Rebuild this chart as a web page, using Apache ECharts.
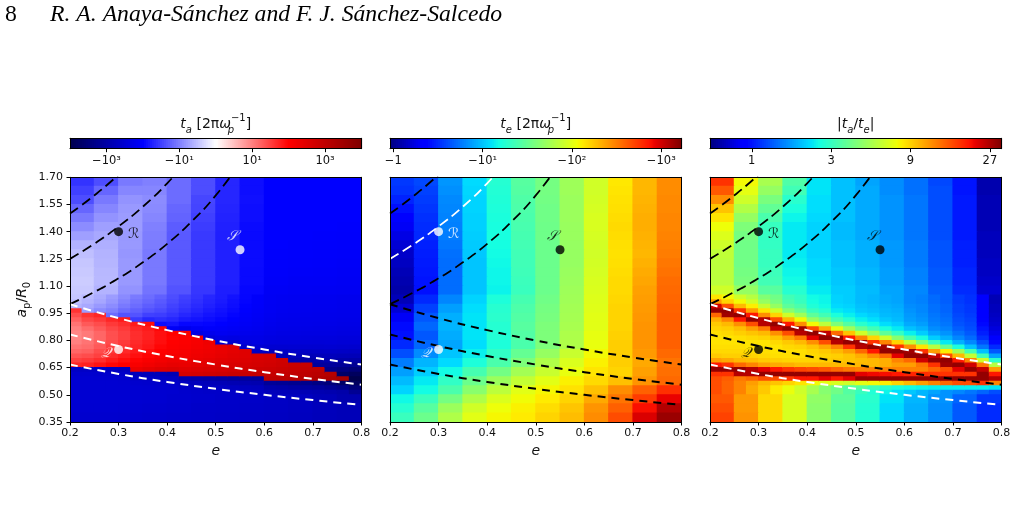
<!DOCTYPE html>
<html>
<head>
<meta charset="utf-8">
<title>t_a, t_e and |t_a/t_e| maps</title>
<script src="https://cdn.jsdelivr.net/npm/echarts@6/dist/echarts.min.js"></script>
<style>
  html, body { margin: 0; padding: 0; background: #fff; }
  #chart { width: 1017px; height: 508px; }
</style>
</head>
<body>
<div id="chart"></div>
<script>
// cell centres. coarse cells are 0.05 x 0.05, fine cells (band region) 0.025 x 0.025
var eCenters = [0.225, 0.275, 0.325, 0.375, 0.425, 0.475, 0.525, 0.575, 0.625, 0.675, 0.725, 0.775];
var aCenters = [1.675, 1.625, 1.575, 1.525, 1.475, 1.425, 1.375, 1.325, 1.275, 1.225, 1.175, 1.125, 1.075,
                1.025, 0.975, 0.925, 0.875, 0.825, 0.775, 0.725, 0.675, 0.625, 0.575, 0.525, 0.475, 0.425, 0.375];
var aUpper = [1.675, 1.625, 1.575, 1.525, 1.475, 1.425, 1.375, 1.325, 1.275, 1.225, 1.175, 1.125, 1.075];
var aLower = [0.475, 0.425, 0.375];
var eFine = [0.2125, 0.2375, 0.2625, 0.2875, 0.3125, 0.3375, 0.3625, 0.3875, 0.4125, 0.4375, 0.4625, 0.4875,
             0.5125, 0.5375, 0.5625, 0.5875, 0.6125, 0.6375, 0.6625, 0.6875, 0.7125, 0.7375, 0.7625, 0.7875];
var aFine = [1.0375, 1.0125, 0.9875, 0.9625, 0.9375, 0.9125, 0.8875, 0.8625, 0.8375, 0.8125, 0.7875,
             0.7625, 0.7375, 0.7125, 0.6875, 0.6625, 0.6375, 0.6125, 0.5875, 0.5625, 0.5375, 0.5125];
var eTicks = [0.2, 0.3, 0.4, 0.5, 0.6, 0.7, 0.8];
var aTicks = [0.35, 0.50, 0.65, 0.80, 0.95, 1.10, 1.25, 1.40, 1.55, 1.70];

// t_a as signed symlog10 (|t_a| < 10 linear, +-1 at +-10); rows over aUpper
var taUpper = [
  [-1.6,-1.4,-1.05,-1.0,-1.15,-1.4,-1.7,-1.9,-2.0,-2.0,-2.0,-2.0],
  [-1.5,-1.2,-0.95,-0.95,-1.15,-1.4,-1.7,-1.9,-2.0,-2.0,-2.0,-2.0],
  [-1.4,-1.05,-0.85,-0.9,-1.15,-1.45,-1.7,-1.88,-2.0,-2.0,-2.0,-2.0],
  [-1.2,-0.95,-0.8,-0.92,-1.2,-1.47,-1.72,-1.9,-2.0,-2.0,-2.0,-2.0],
  [-1.05,-0.85,-0.78,-0.95,-1.22,-1.5,-1.73,-1.9,-2.0,-2.0,-2.0,-2.0],
  [-0.9,-0.75,-0.78,-1.0,-1.28,-1.53,-1.75,-1.92,-2.0,-2.0,-2.0,-2.02],
  [-0.75,-0.68,-0.8,-1.02,-1.3,-1.55,-1.76,-1.93,-2.0,-2.0,-2.02,-2.03],
  [-0.6,-0.63,-0.8,-1.03,-1.3,-1.55,-1.76,-1.93,-2.0,-2.02,-2.03,-2.05],
  [-0.5,-0.6,-0.82,-1.05,-1.3,-1.55,-1.75,-1.92,-2.02,-2.03,-2.05,-2.06],
  [-0.45,-0.58,-0.8,-1.05,-1.3,-1.55,-1.75,-1.92,-2.03,-2.05,-2.06,-2.08],
  [-0.42,-0.56,-0.8,-1.05,-1.3,-1.55,-1.75,-1.93,-2.05,-2.07,-2.08,-2.1],
  [-0.4,-0.55,-0.8,-1.05,-1.3,-1.55,-1.75,-1.93,-2.07,-2.1,-2.1,-2.12],
  [-0.42,-0.6,-0.85,-1.1,-1.35,-1.58,-1.77,-1.95,-2.1,-2.12,-2.13,-2.15]
];
// t_a band region, one array per eFine column, top to bottom over aFine
var taFineCols = [
  [-0.45,-0.5,-0.6,1.6,1.4,1.25,1.1,1.0,0.95,0.95,1.0,1.1,1.2,1.35,1.5,1.7,-2.65,-2.55,-2.5,-2.5,-2.5,-2.5],
  [-0.55,-0.6,-0.68,-0.78,1.6,1.45,1.3,1.15,1.05,1.05,1.1,1.15,1.25,1.4,1.55,1.75,-2.65,-2.55,-2.5,-2.5,-2.5,-2.5],
  [-0.65,-0.7,-0.8,-0.92,1.7,1.55,1.4,1.3,1.2,1.2,1.25,1.3,1.4,1.5,1.65,1.85,-2.65,-2.56,-2.52,-2.5,-2.5,-2.5],
  [-0.78,-0.82,-0.9,-1.0,-1.15,1.7,1.55,1.45,1.38,1.38,1.42,1.5,1.58,1.68,1.8,1.95,-2.7,-2.58,-2.53,-2.5,-2.5,-2.5],
  [-0.92,-0.98,-1.05,-1.15,-1.35,1.8,1.65,1.55,1.5,1.5,1.55,1.6,1.68,1.78,1.9,2.05,-2.72,-2.6,-2.54,-2.52,-2.5,-2.5],
  [-1.04,-1.1,-1.15,-1.25,-1.35,-1.55,1.8,1.7,1.65,1.65,1.68,1.72,1.8,1.88,1.98,2.1,2.3,-2.75,-2.62,-2.55,-2.52,-2.5],
  [-1.15,-1.2,-1.27,-1.35,-1.5,-1.7,1.9,1.8,1.75,1.75,1.78,1.82,1.9,1.98,2.08,2.2,2.4,-2.78,-2.64,-2.57,-2.53,-2.51],
  [-1.25,-1.3,-1.35,-1.42,-1.52,-1.65,-1.9,1.95,1.88,1.88,1.9,1.95,2.0,2.08,2.18,2.3,2.5,-2.8,-2.66,-2.59,-2.55,-2.52],
  [-1.4,-1.43,-1.48,-1.53,-1.6,-1.7,-1.85,-2.1,2.0,1.98,2.0,2.03,2.08,2.15,2.25,2.38,2.55,-2.85,-2.68,-2.61,-2.56,-2.53],
  [-1.5,-1.53,-1.57,-1.62,-1.7,-1.8,-1.95,-2.2,2.1,2.05,2.05,2.08,2.12,2.18,2.25,2.35,2.48,2.65,-2.9,-2.72,-2.63,-2.56],
  [-1.6,-1.63,-1.67,-1.72,-1.78,-1.85,-1.95,-2.1,-2.3,2.15,2.12,2.15,2.2,2.25,2.32,2.42,2.55,2.7,-2.95,-2.75,-2.65,-2.58],
  [-1.7,-1.72,-1.75,-1.8,-1.85,-1.9,-1.97,-2.05,-2.2,-2.4,2.25,2.22,2.25,2.3,2.38,2.48,2.6,2.75,-3.0,-2.8,-2.67,-2.6],
  [-1.78,-1.8,-1.83,-1.87,-1.9,-1.95,-2.0,-2.07,-2.15,-2.3,-2.5,2.35,2.33,2.38,2.45,2.55,2.65,2.8,-3.05,-2.82,-2.68,-2.61],
  [-1.86,-1.88,-1.9,-1.93,-1.97,-2.0,-2.05,-2.1,-2.18,-2.32,-2.55,2.45,2.4,2.45,2.5,2.6,2.7,2.85,-3.1,-2.85,-2.7,-2.62],
  [-1.96,-1.97,-1.99,-2.01,-2.04,-2.07,-2.1,-2.15,-2.2,-2.28,-2.4,-2.6,2.5,2.5,2.55,2.62,2.72,2.88,-3.1,-2.87,-2.72,-2.63],
  [-2.04,-2.05,-2.06,-2.08,-2.1,-2.12,-2.15,-2.18,-2.22,-2.28,-2.35,-2.48,-2.65,2.6,2.62,2.68,2.78,2.92,-3.15,-2.9,-2.74,-2.65],
  [-2.12,-2.12,-2.13,-2.14,-2.16,-2.18,-2.2,-2.23,-2.27,-2.32,-2.4,-2.52,-2.7,2.65,2.68,2.72,2.8,2.9,3.0,-3.15,-2.92,-2.76],
  [-2.15,-2.15,-2.16,-2.17,-2.19,-2.21,-2.23,-2.26,-2.3,-2.35,-2.42,-2.52,-2.65,-2.8,2.75,2.78,2.85,2.93,3.05,-3.2,-2.95,-2.78],
  [-2.16,-2.16,-2.17,-2.18,-2.2,-2.22,-2.24,-2.27,-2.3,-2.35,-2.42,-2.5,-2.6,-2.75,-2.9,2.85,2.9,2.98,3.1,-3.25,-3.0,-2.8],
  [-2.17,-2.17,-2.18,-2.19,-2.21,-2.23,-2.25,-2.28,-2.32,-2.37,-2.44,-2.53,-2.65,-2.8,-3.0,2.9,2.95,3.02,3.15,-3.3,-3.05,-2.83],
  [-2.18,-2.18,-2.19,-2.2,-2.22,-2.24,-2.26,-2.29,-2.33,-2.38,-2.45,-2.53,-2.63,-2.78,-2.95,-3.1,3.0,3.08,3.2,-3.4,-3.1,-2.86],
  [-2.18,-2.18,-2.19,-2.2,-2.22,-2.24,-2.26,-2.29,-2.33,-2.38,-2.44,-2.52,-2.62,-2.75,-2.9,-3.1,-3.3,3.15,3.25,-3.5,-3.2,-2.9],
  [-2.2,-2.2,-2.21,-2.22,-2.24,-2.26,-2.28,-2.31,-2.35,-2.4,-2.46,-2.54,-2.64,-2.78,-2.95,-3.15,-3.4,-3.7,3.35,-3.7,-3.3,-2.95],
  [-2.2,-2.2,-2.21,-2.22,-2.24,-2.26,-2.28,-2.31,-2.35,-2.4,-2.46,-2.55,-2.66,-2.8,-2.98,-3.2,-3.5,-3.8,-4.0,-3.8,-3.5,-3.2]
];
// rows over aLower
var taLower = [
  [-2.5,-2.5,-2.5,-2.52,-2.55,-2.57,-2.6,-2.62,-2.65,-2.7,-2.8,-2.9],
  [-2.52,-2.52,-2.53,-2.55,-2.57,-2.6,-2.62,-2.64,-2.66,-2.7,-2.75,-2.8],
  [-2.55,-2.55,-2.56,-2.58,-2.6,-2.62,-2.64,-2.66,-2.68,-2.72,-2.76,-2.8]
];

// log10 |t_e|, rows over aCenters
var teLog = [
  [0.55,0.6,0.85,1.07,1.25,1.45,1.57,1.73,1.93,2.13,2.3,2.45],
  [0.53,0.58,0.83,1.06,1.24,1.44,1.57,1.73,1.93,2.14,2.3,2.45],
  [0.48,0.56,0.81,1.05,1.23,1.42,1.56,1.72,1.94,2.15,2.31,2.46],
  [0.42,0.54,0.8,1.05,1.22,1.41,1.55,1.72,1.95,2.16,2.32,2.46],
  [0.35,0.52,0.79,1.04,1.21,1.4,1.55,1.72,1.96,2.17,2.33,2.47],
  [0.3,0.51,0.78,1.04,1.2,1.39,1.54,1.71,1.96,2.18,2.33,2.47],
  [0.25,0.5,0.77,1.03,1.2,1.38,1.54,1.71,1.95,2.17,2.32,2.48],
  [0.2,0.47,0.75,1.02,1.19,1.37,1.53,1.7,1.94,2.16,2.31,2.49],
  [0.17,0.46,0.73,1.01,1.18,1.36,1.53,1.7,1.93,2.15,2.3,2.5],
  [0.15,0.45,0.72,1.0,1.17,1.36,1.53,1.7,1.94,2.16,2.32,2.52],
  [0.12,0.44,0.72,1.0,1.16,1.35,1.53,1.71,1.95,2.17,2.34,2.54],
  [0.1,0.43,0.72,1.0,1.16,1.34,1.53,1.72,1.96,2.18,2.36,2.56],
  [0.08,0.42,0.72,1.0,1.15,1.33,1.53,1.73,1.97,2.18,2.38,2.57],
  [0.12,0.5,0.8,1.05,1.22,1.38,1.55,1.74,1.98,2.19,2.39,2.58],
  [0.2,0.58,0.88,1.08,1.26,1.41,1.57,1.75,1.99,2.2,2.4,2.59],
  [0.3,0.65,0.93,1.1,1.27,1.43,1.58,1.76,2.0,2.2,2.41,2.6],
  [0.4,0.7,0.95,1.1,1.25,1.45,1.6,1.77,2.0,2.2,2.42,2.6],
  [0.42,0.65,0.92,1.1,1.24,1.43,1.6,1.79,2.02,2.21,2.42,2.6],
  [0.5,0.7,0.9,1.08,1.22,1.4,1.6,1.8,2.03,2.22,2.42,2.6],
  [0.62,0.82,1.0,1.14,1.3,1.5,1.7,1.9,2.07,2.22,2.4,2.57],
  [0.77,0.95,1.07,1.22,1.4,1.6,1.8,1.97,2.1,2.22,2.35,2.53],
  [0.88,1.03,1.18,1.38,1.56,1.75,1.9,2.03,2.14,2.2,2.38,2.55],
  [0.97,1.12,1.3,1.53,1.72,1.88,2.0,2.1,2.18,2.27,2.42,2.57],
  [1.05,1.18,1.4,1.65,1.85,2.0,2.08,2.15,2.27,2.45,2.6,2.77],
  [1.17,1.33,1.57,1.8,1.97,2.06,2.12,2.2,2.35,2.53,2.73,2.93],
  [1.25,1.45,1.72,1.93,2.05,2.1,2.17,2.25,2.42,2.6,2.88,3.08],
  [1.33,1.53,1.8,2.0,2.08,2.12,2.2,2.28,2.45,2.67,2.97,3.15]
];

// log10 |t_a / t_e|; rows over aUpper
var ratioUpper = [
  [1.25,0.88,0.72,0.53,0.36,0.30,0.25,0.21,0.16,0.09,0.0,-0.18],
  [1.18,0.85,0.68,0.5,0.36,0.3,0.26,0.21,0.16,0.1,0.0,-0.18],
  [1.08,0.8,0.62,0.45,0.35,0.3,0.26,0.22,0.17,0.1,0.01,-0.17],
  [0.98,0.74,0.57,0.42,0.35,0.3,0.26,0.22,0.17,0.1,0.01,-0.17],
  [0.92,0.68,0.52,0.39,0.34,0.3,0.26,0.22,0.17,0.1,0.01,-0.17],
  [0.87,0.63,0.48,0.37,0.33,0.29,0.26,0.22,0.17,0.1,0.01,-0.17],
  [0.83,0.61,0.47,0.37,0.33,0.29,0.26,0.22,0.17,0.1,0.01,-0.16],
  [0.8,0.6,0.47,0.37,0.33,0.3,0.27,0.23,0.18,0.11,0.02,-0.16],
  [0.77,0.6,0.48,0.37,0.33,0.3,0.27,0.23,0.18,0.11,0.02,-0.16],
  [0.76,0.6,0.48,0.38,0.34,0.3,0.27,0.23,0.18,0.11,0.02,-0.15],
  [0.76,0.61,0.49,0.39,0.34,0.31,0.28,0.24,0.19,0.12,0.03,-0.15],
  [0.76,0.62,0.5,0.4,0.35,0.31,0.28,0.24,0.19,0.12,0.03,-0.14],
  [0.8,0.68,0.55,0.44,0.37,0.32,0.29,0.25,0.2,0.13,0.04,-0.13]
];
// band region, one array per eFine column, top to bottom over aFine
var ratioFineCols = [
  [0.92,1.05,1.38,1.47,1.15,1.02,0.97,0.95,0.93,0.92,0.92,0.93,0.94,0.97,1.05,1.3,1.47,1.25,1.2,1.2,1.2,1.2],
  [0.88,0.95,1.2,1.47,1.45,1.1,1.0,0.96,0.94,0.92,0.92,0.93,0.94,0.96,1.03,1.25,1.47,1.25,1.17,1.16,1.16,1.16],
  [0.8,0.88,1.0,1.25,1.47,1.3,1.08,0.99,0.96,0.93,0.92,0.93,0.94,0.96,1.0,1.15,1.47,1.42,1.12,1.1,1.1,1.1],
  [0.75,0.8,0.9,1.05,1.3,1.47,1.2,1.05,0.98,0.94,0.92,0.92,0.93,0.95,0.99,1.1,1.42,1.42,1.15,1.05,1.03,1.03],
  [0.64,0.68,0.78,0.92,1.08,1.42,1.42,1.12,1.0,0.95,0.92,0.92,0.93,0.94,0.97,1.05,1.35,1.47,1.2,1.0,0.97,0.97],
  [0.6,0.62,0.68,0.8,0.95,1.2,1.47,1.4,1.08,0.98,0.94,0.92,0.92,0.93,0.96,1.03,1.3,1.47,1.2,0.98,0.91,0.91],
  [0.5,0.52,0.56,0.65,0.8,1.0,1.3,1.47,1.2,1.05,0.97,0.94,0.93,0.93,0.95,1.02,1.25,1.47,1.25,0.95,0.86,0.86],
  [0.47,0.48,0.52,0.58,0.7,0.88,1.08,1.45,1.42,1.12,1.0,0.95,0.93,0.93,0.95,1.0,1.22,1.47,1.3,0.92,0.8,0.8],
  [0.4,0.41,0.43,0.48,0.56,0.68,0.88,1.2,1.47,1.35,1.08,0.98,0.95,0.94,0.95,1.0,1.2,1.47,1.3,0.88,0.72,0.72],
  [0.39,0.39,0.4,0.44,0.5,0.6,0.76,1.02,1.4,1.47,1.2,1.03,0.97,0.95,0.96,1.0,1.18,1.47,1.35,0.85,0.65,0.65],
  [0.33,0.33,0.34,0.37,0.42,0.5,0.63,0.85,1.15,1.47,1.42,1.1,1.0,0.96,0.97,1.0,1.15,1.47,1.3,0.82,0.6,0.6],
  [0.32,0.32,0.33,0.35,0.38,0.44,0.54,0.7,0.98,1.3,1.47,1.25,1.05,0.98,0.98,1.0,1.12,1.47,1.35,0.8,0.54,0.54],
  [0.29,0.29,0.3,0.31,0.34,0.38,0.45,0.58,0.8,1.1,1.45,1.42,1.15,1.02,0.99,1.0,1.1,1.35,1.47,0.85,0.55,0.48],
  [0.28,0.28,0.29,0.3,0.32,0.35,0.4,0.5,0.68,0.95,1.25,1.47,1.3,1.08,1.0,1.0,1.1,1.33,1.47,0.88,0.5,0.43],
  [0.26,0.26,0.27,0.28,0.29,0.31,0.35,0.42,0.56,0.8,1.1,1.45,1.47,1.15,1.02,1.02,1.1,1.32,1.47,0.9,0.45,0.39],
  [0.25,0.25,0.26,0.27,0.28,0.29,0.32,0.37,0.47,0.65,0.95,1.25,1.47,1.35,1.1,1.05,1.1,1.3,1.47,0.95,0.42,0.35],
  [0.2,0.2,0.21,0.22,0.23,0.24,0.26,0.3,0.38,0.52,0.78,1.08,1.45,1.47,1.15,1.05,1.1,1.28,1.47,1.0,0.4,0.31],
  [0.19,0.19,0.2,0.2,0.21,0.22,0.24,0.27,0.32,0.42,0.62,0.92,1.25,1.47,1.38,1.12,1.1,1.26,1.47,1.05,0.39,0.28],
  [0.15,0.15,0.16,0.16,0.17,0.18,0.19,0.21,0.25,0.32,0.48,0.75,1.05,1.4,1.47,1.25,1.15,1.25,1.47,1.1,0.38,0.25],
  [0.13,0.13,0.14,0.14,0.15,0.16,0.17,0.19,0.22,0.27,0.37,0.58,0.9,1.2,1.47,1.45,1.2,1.25,1.47,1.15,0.38,0.22],
  [0.07,0.07,0.08,0.08,0.09,0.1,0.11,0.13,0.16,0.2,0.27,0.42,0.7,1.0,1.3,1.47,1.35,1.25,1.47,1.2,0.38,0.2],
  [0.05,0.05,0.06,0.06,0.07,0.08,0.09,0.1,0.12,0.15,0.2,0.3,0.5,0.78,1.1,1.38,1.47,1.25,1.47,1.2,0.38,0.17],
  [-0.06,-0.06,-0.05,-0.05,-0.04,-0.03,-0.02,0.0,0.02,0.05,0.1,0.17,0.3,0.5,0.8,1.12,1.4,1.47,1.47,1.25,0.38,0.14],
  [-0.17,-0.17,-0.16,-0.16,-0.15,-0.14,-0.13,-0.11,-0.09,-0.06,-0.02,0.04,0.12,0.25,0.45,0.75,1.05,1.3,1.42,1.1,0.36,0.1]
];
// rows over aLower
var ratioLower = [
  [1.18,1.06,0.94,0.82,0.67,0.56,0.45,0.36,0.28,0.22,0.14,0.06],
  [1.2,1.06,0.94,0.82,0.66,0.55,0.44,0.34,0.27,0.21,0.12,0.04],
  [1.22,1.07,0.94,0.82,0.66,0.55,0.44,0.34,0.27,0.21,0.12,0.04]
];

// colour bars: range, tick positions and their labels
var cbRange = [[-4, 4], [-0.037, 3.226], [-0.251, 1.501]];
var cbTicks = [[-3, -1, 1, 3], [0, 1, 2, 3], [0, 0.4771, 0.9542, 1.4314]];
var cbLabels = [['−10³', '−10¹', '10¹', '10³'], ['−1', '−10¹', '−10²', '−10³'], ['1', '3', '9', '27']];

// dashed curves (e, a_p/R_0)
var curveA = [[0.2,1.50],[0.225,1.548],[0.25,1.60],[0.275,1.655],[0.3,1.714]];
var curveB = [[0.2,1.25],[0.25,1.333],[0.3,1.429],[0.35,1.538],[0.4,1.667],[0.45,1.818]];
var curveC = [[0.2,1.0],[0.25,1.067],[0.3,1.143],[0.35,1.231],[0.4,1.333],[0.45,1.455],[0.5,1.60],[0.55,1.778]];
var lineD = [[0.2,1.0],[0.3,0.923],[0.4,0.857],[0.5,0.80],[0.6,0.75],[0.7,0.706],[0.8,0.667]];
var lineE = [[0.2,0.833],[0.3,0.769],[0.4,0.714],[0.5,0.667],[0.6,0.625],[0.7,0.588],[0.8,0.556]];
var lineF = [[0.2,0.667],[0.3,0.615],[0.4,0.571],[0.5,0.533],[0.6,0.50],[0.7,0.471],[0.8,0.444]];

// orbits R, S, Q
var ptNames = ['ℛ', '𝒮', '𝒬'];
var ptE = [0.30, 0.55, 0.30];
var ptA = [1.40, 1.30, 0.75];

var curveColors = [
  ['#000', '#000', '#000', '#fff', '#fff', '#fff'],
  ['#000', '#fff', '#000', '#000', '#000', '#000'],
  ['#000', '#000', '#000', '#fff', '#000', '#fff']
];
var ptColors = [['#000', '#fff', '#fff'], ['#fff', '#000', '#fff'], ['#000', '#000', '#000']];

var FONT = 'DejaVu Sans';
var lefts = [70, 390, 710];
var plotW = 291.5, plotTop = 177.3, plotH = 244.7;
var cbTop = 138.3, cbH = 10.4;

function seg(stops, t) {
  if (t <= stops[0][0]) return stops[0][1];
  for (var i = 1; i < stops.length; i++) {
    if (t <= stops[i][0]) {
      var f = (t - stops[i - 1][0]) / (stops[i][0] - stops[i - 1][0]);
      return stops[i - 1][1] + (stops[i][1] - stops[i - 1][1]) * f;
    }
  }
  return stops[stops.length - 1][1];
}
function rgb(r, g, b) {
  return 'rgb(' + Math.round(r * 255) + ',' + Math.round(g * 255) + ',' + Math.round(b * 255) + ')';
}
function seismic(t) {
  return rgb(seg([[0,0],[0.25,0],[0.5,1],[0.75,1],[1,0.5]], t),
             seg([[0,0],[0.25,0],[0.5,1],[0.75,0],[1,0]], t),
             seg([[0,0.3],[0.25,1],[0.5,1],[0.75,0],[1,0]], t));
}
function jet(t) {
  return rgb(seg([[0,0],[0.35,0],[0.66,1],[0.89,1],[1,0.5]], t),
             seg([[0,0],[0.125,0],[0.375,1],[0.64,1],[0.91,0],[1,0]], t),
             seg([[0,0.5],[0.11,1],[0.34,1],[0.65,0],[1,0]], t));
}
var cmaps = [seismic, jet, jet];
function colorOf(k, v) {
  var t = (v - cbRange[k][0]) / (cbRange[k][1] - cbRange[k][0]);
  return cmaps[k](Math.max(0, Math.min(1, t)));
}

// cells as [e, a, value, width, height]
function rowCells(out, es, as, rows, size) {
  for (var i = 0; i < as.length; i++)
    for (var j = 0; j < es.length; j++) out.push([es[j], as[i], rows[i][j], size, size]);
}
function colCells(out, es, as, cols, size) {
  for (var j = 0; j < es.length; j++)
    for (var i = 0; i < as.length; i++) out.push([es[j], as[i], cols[j][i], size, size]);
}
var panelCells = [[], [], []];
rowCells(panelCells[0], eCenters, aUpper, taUpper, 0.05);
colCells(panelCells[0], eFine, aFine, taFineCols, 0.025);
rowCells(panelCells[0], eCenters, aLower, taLower, 0.05);
rowCells(panelCells[1], eCenters, aCenters, teLog, 0.05);
rowCells(panelCells[2], eCenters, aUpper, ratioUpper, 0.05);
colCells(panelCells[2], eFine, aFine, ratioFineCols, 0.025);
rowCells(panelCells[2], eCenters, aLower, ratioLower, 0.05);

var chart = echarts.init(document.getElementById('chart'));

var grids = [], xAxes = [], yAxes = [], series = [];
var frameLine = { show: true, onZero: false, lineStyle: { color: '#000', width: 1 } };
function frameAxis(grid, pos, min, max) {
  return { gridIndex: grid, type: 'value', position: pos, min: min, max: max, z: 10,
           axisLine: frameLine, axisTick: { show: false }, axisLabel: { show: false }, splitLine: { show: false } };
}

for (var k = 0; k < 3; k++) grids.push({ left: lefts[k], top: plotTop, width: plotW, height: plotH });
for (var k = 0; k < 3; k++) grids.push({ left: lefts[k], top: cbTop, width: plotW, height: cbH });

for (var k = 0; k < 3; k++) {
  xAxes.push({
    gridIndex: k, type: 'value', position: 'bottom', min: 0.2, max: 0.8, z: 10,
    axisLine: frameLine,
    axisTick: { show: true, length: 3.5, customValues: eTicks, lineStyle: { color: '#000' } },
    axisLabel: { customValues: eTicks, formatter: function (v) { return v.toFixed(1); },
                 color: '#111', fontSize: 11, fontFamily: FONT, margin: 6 },
    splitLine: { show: false },
    name: 'e', nameLocation: 'middle', nameGap: 22,
    nameTextStyle: { fontStyle: 'italic', fontSize: 14, fontFamily: FONT, color: '#111' }
  });
  xAxes.push(frameAxis(k, 'top', 0.2, 0.8));
  yAxes.push({
    gridIndex: k, type: 'value', position: 'left', min: 0.35, max: 1.70, z: 10,
    axisLine: frameLine,
    axisTick: { show: k === 0, length: 3.5, customValues: aTicks, lineStyle: { color: '#000' } },
    axisLabel: { show: k === 0, customValues: aTicks, formatter: function (v) { return v.toFixed(2); },
                 color: '#111', fontSize: 11, fontFamily: FONT, margin: 7 },
    splitLine: { show: false },
    name: k === 0 ? '{i|a}{sb|p}/{i|R}{sb|0}' : '', nameLocation: 'middle', nameGap: 38, nameRotate: 90,
    nameTextStyle: { fontSize: 14, fontFamily: FONT, color: '#111', lineHeight: 20,
      rich: { i: { fontStyle: 'italic', fontSize: 14, fontFamily: FONT, color: '#111', lineHeight: 20 },
              sb: { fontSize: 10, fontFamily: FONT, color: '#111', lineHeight: 12, verticalAlign: 'bottom' } } }
  });
  yAxes.push(frameAxis(k, 'right', 0.35, 1.70));
}
for (var k = 0; k < 3; k++) {
  (function (k) {
    xAxes.push({
      gridIndex: 3 + k, type: 'value', position: 'bottom', min: cbRange[k][0], max: cbRange[k][1], z: 10,
      axisLine: frameLine,
      axisTick: { show: true, length: 3.5, customValues: cbTicks[k], lineStyle: { color: '#000' } },
      axisLabel: { customValues: cbTicks[k], color: '#111', fontSize: 11.5, fontFamily: FONT, margin: 6,
        formatter: function (v) {
          var best = 0;
          for (var i = 1; i < cbTicks[k].length; i++) {
            if (Math.abs(cbTicks[k][i] - v) < Math.abs(cbTicks[k][best] - v)) best = i;
          }
          return cbLabels[k][best];
        } },
      splitLine: { show: false }
    });
    xAxes.push(frameAxis(3 + k, 'top', cbRange[k][0], cbRange[k][1]));
    yAxes.push(frameAxis(3 + k, 'left', 0, 1));
    yAxes.push(frameAxis(3 + k, 'right', 0, 1));
  })(k);
}

for (var k = 0; k < 3; k++) {
  (function (k) {
    series.push({
      type: 'custom', xAxisIndex: 2 * k, yAxisIndex: 2 * k, z: 1, silent: true, clip: true,
      encode: { x: 0, y: 1 },
      data: panelCells[k],
      renderItem: function (params, api) {
        var e = api.value(0), a = api.value(1), v = api.value(2), w = api.value(3), h = api.value(4);
        var p0 = api.coord([e - w / 2, a + h / 2]);
        var p1 = api.coord([e + w / 2, a - h / 2]);
        return { type: 'rect',
                 shape: { x: p0[0] - 0.5, y: p0[1] - 0.5, width: p1[0] - p0[0] + 1, height: p1[1] - p0[1] + 1 },
                 style: { fill: colorOf(k, v) } };
      }
    });

    var curves = [curveA, curveB, curveC, lineD, lineE, lineF];
    for (var c = 0; c < curves.length; c++) {
      var upper = c < 3;
      series.push({
        type: 'line', xAxisIndex: 2 * k, yAxisIndex: 2 * k, z: 3, silent: true,
        data: curves[c], showSymbol: false, symbol: 'none', smooth: true, clip: true,
        lineStyle: { color: curveColors[k][c], width: upper ? 1.8 : 2,
                     type: upper ? [10, 5] : [8, 6] }
      });
    }

    var pts = [];
    var labelPos = [
      { position: 'right', distance: 5, offset: [0, 3] },
      { position: 'top', distance: 2, offset: [-8, 0] },
      { position: 'left', distance: 3, offset: [0, 4] }
    ];
    for (var p = 0; p < ptE.length; p++) {
      pts.push({
        value: [ptE[p], ptA[p]],
        itemStyle: { color: ptColors[k][p] },
        label: { show: true, formatter: ptNames[p], color: ptColors[k][p],
                 fontSize: 14, fontFamily: '"DejaVu Serif", "DejaVu Sans", serif', fontStyle: 'italic',
                 position: labelPos[p].position, distance: labelPos[p].distance, offset: labelPos[p].offset }
      });
    }
    series.push({
      type: 'scatter', xAxisIndex: 2 * k, yAxisIndex: 2 * k, z: 4, silent: true,
      symbol: 'circle', symbolSize: 9, data: pts
    });

    // colour bar strip
    var slices = [];
    var n = 146, lo = cbRange[k][0], hi = cbRange[k][1];
    for (var s = 0; s < n; s++) slices.push([lo + (hi - lo) * s / n, lo + (hi - lo) * (s + 1) / n]);
    series.push({
      type: 'custom', xAxisIndex: 6 + 2 * k, yAxisIndex: 6 + 2 * k, z: 1, silent: true,
      data: slices,
      renderItem: function (params, api) {
        var v0 = api.value(0), v1 = api.value(1);
        var p0 = api.coord([v0, 1]), p1 = api.coord([v1, 0]);
        return { type: 'rect',
                 shape: { x: p0[0], y: p0[1], width: p1[0] - p0[0] + 0.6, height: p1[1] - p0[1] },
                 style: { fill: colorOf(k, (v0 + v1) / 2) } };
      }
    });
  })(k);
}

var titleRich = {
  i: { fontStyle: 'italic', fontSize: 14, fontFamily: FONT, fill: '#111', lineHeight: 22 },
  sb: { fontStyle: 'italic', fontSize: 10, fontFamily: FONT, fill: '#111', lineHeight: 14, verticalAlign: 'bottom' },
  sp: { fontStyle: 'italic', fontSize: 10, fontFamily: FONT, fill: '#111', lineHeight: 12, verticalAlign: 'bottom', width: 0 },
  su: { fontSize: 10, fontFamily: FONT, fill: '#111', lineHeight: 10, verticalAlign: 'top' }
};
var titles = ['{i|t}{sb|a} [2π{i|ω}{sp|p}{su|−1}]', '{i|t}{sb|e} [2π{i|ω}{sp|p}{su|−1}]', '|{i|t}{sb|a}/{i|t}{sb|e}|'];
var graphics = [
  { type: 'text', x: 5, y: 15, style: { text: '8', fontSize: 23.7, fontFamily: 'Liberation Serif', fill: '#000', verticalAlign: 'middle' } },
  { type: 'text', x: 50, y: 15, style: { text: 'R. A. Anaya-Sánchez and F. J. Sánchez-Salcedo', fontSize: 23.7,
      fontStyle: 'italic', fontFamily: 'Liberation Serif', fill: '#000', verticalAlign: 'middle' } }
];
for (var k = 0; k < 3; k++) {
  graphics.push({ type: 'text', x: lefts[k] + plotW / 2, y: 124,
    style: { text: titles[k], rich: titleRich, fontSize: 14, fontFamily: FONT, fill: '#111', lineHeight: 22,
             align: 'center', verticalAlign: 'middle' } });
}

chart.setOption({
  animation: false,
  backgroundColor: '#fff',
  grid: grids,
  xAxis: xAxes,
  yAxis: yAxes,
  series: series,
  graphic: graphics
});
</script>
</body>
</html>
